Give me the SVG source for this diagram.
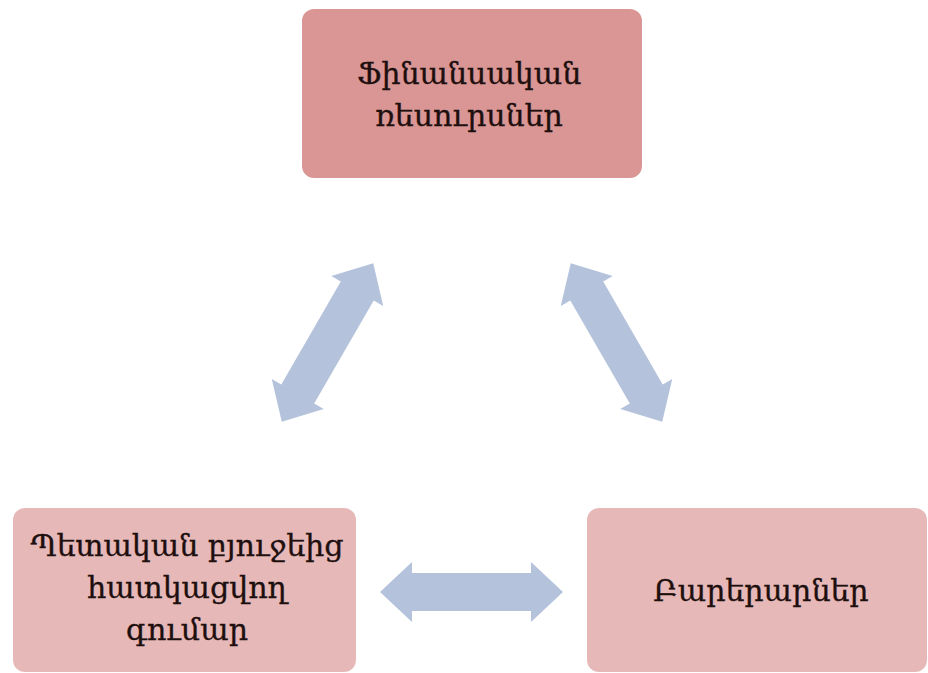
<svg xmlns="http://www.w3.org/2000/svg" width="928" height="673" viewBox="0 0 928 673">
<defs>
<style>
.top{fill:#D99694;}
.bot{fill:#E6B8B7;}
.lbl{font-family:"DejaVu Serif","DejaVu Sans",serif;font-size:30px;fill:#1E0F0F;stroke:#1E0F0F;stroke-width:0.35;text-anchor:middle;}
.arr{fill:#B4C3DB;}
</style>
<path id="dbl" d="M-91.5,0 L-59.5,-30 L-59.5,-19 L59.5,-19 L59.5,-30 L91.5,0 L59.5,30 L59.5,19 L-59.5,19 L-59.5,30 Z"/>
</defs>
<rect width="928" height="673" fill="#FFFFFF"/>
<g id="connectors">
<use href="#dbl" class="arr" transform="translate(327.5,342.5) rotate(-60)"/>
<use href="#dbl" class="arr" transform="translate(616.5,342.5) rotate(60)"/>
<use href="#dbl" class="arr" transform="translate(471.5,592)"/>
</g>
<g id="node-finance">
<rect class="top" x="302" y="9" width="340" height="169" rx="12"/>
<text class="lbl" x="469" y="84">Ֆինանսական</text>
<text class="lbl" x="469" y="126">ռեսուրսներ</text>
</g>
<g id="node-budget">
<rect class="bot" x="13" y="508" width="343" height="164" rx="12"/>
<text class="lbl" x="187" y="556">Պետական բյուջեից</text>
<text class="lbl" x="187" y="598">հատկացվող</text>
<text class="lbl" x="187" y="640">գումար</text>
</g>
<g id="node-charity">
<rect class="bot" x="587" y="508" width="340" height="164" rx="12"/>
<text class="lbl" x="761" y="601">Բարերարներ</text>
</g>
</svg>
